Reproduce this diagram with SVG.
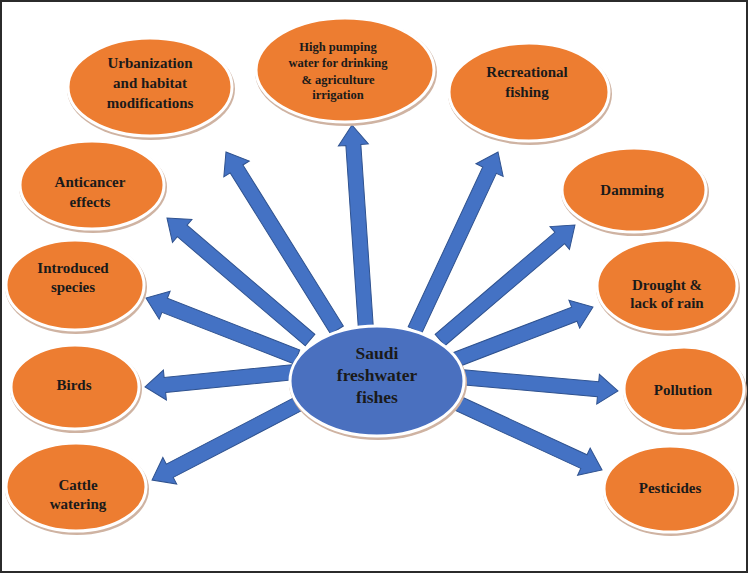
<svg xmlns="http://www.w3.org/2000/svg" width="748" height="573" viewBox="0 0 748 573">
<style>
.node ellipse.sh{fill:#cfb3a2;}
.node ellipse.bd{fill:#ED7D31;stroke:#ffffff;stroke-width:3;}
.center ellipse.bd{fill:#4A70BF;stroke:#ffffff;stroke-width:3;}
.arrow{fill:#4472C4;stroke:#2F528F;stroke-width:1;stroke-linejoin:miter;}
text{font-family:"Liberation Serif","Times New Roman",serif;font-weight:bold;fill:#1a1a1a;text-anchor:middle;font-size:15px;}
text.sm{font-size:12.5px;}
text.lg{font-size:17.5px;}
</style>
<rect x="1" y="1" width="746" height="571" fill="#ffffff" stroke="#2b2b2b" stroke-width="2"/>
<g id="connectors">
<path class="arrow" transform="translate(337,330) rotate(-121.95)" d="M0,-7.5 L189.8,-7.5 L189.8,-15 L209.8,0 L189.8,15 L189.8,7.5 L0,7.5 Z"/>
<path class="arrow" transform="translate(310,340) rotate(-139.53)" d="M0,-7.5 L168,-7.5 L168,-15 L188,0 L168,15 L168,7.5 L0,7.5 Z"/>
<path class="arrow" transform="translate(297,357) rotate(-158.66)" d="M0,-7.5 L142.1,-7.5 L142.1,-15 L162.1,0 L142.1,15 L142.1,7.5 L0,7.5 Z"/>
<path class="arrow" transform="translate(295,372) rotate(174.29)" d="M0,-7.5 L130.75,-7.5 L130.75,-15 L150.75,0 L130.75,15 L130.75,7.5 L0,7.5 Z"/>
<path class="arrow" transform="translate(300,403) rotate(152.51)" d="M0,-7.5 L146.8,-7.5 L146.8,-15 L166.8,0 L146.8,15 L146.8,7.5 L0,7.5 Z"/>
<path class="arrow" transform="translate(366,330) rotate(-93.91)" d="M0,-7.5 L185.5,-7.5 L185.5,-15 L205.5,0 L185.5,15 L185.5,7.5 L0,7.5 Z"/>
<path class="arrow" transform="translate(415,330) rotate(-65)" d="M0,-7.5 L176.4,-7.5 L176.4,-15 L196.4,0 L176.4,15 L176.4,7.5 L0,7.5 Z"/>
<path class="arrow" transform="translate(440,340) rotate(-40.43)" d="M0,-7.5 L157.3,-7.5 L157.3,-15 L177.3,0 L157.3,15 L157.3,7.5 L0,7.5 Z"/>
<path class="arrow" transform="translate(455,360) rotate(-21.01)" d="M0,-7.5 L127.8,-7.5 L127.8,-15 L147.8,0 L127.8,15 L127.8,7.5 L0,7.5 Z"/>
<path class="arrow" transform="translate(460,377) rotate(5.06)" d="M0,-7.5 L138.6,-7.5 L138.6,-15 L158.6,0 L138.6,15 L138.6,7.5 L0,7.5 Z"/>
<path class="arrow" transform="translate(455,402) rotate(24.82)" d="M0,-7.5 L142,-7.5 L142,-15 L162,0 L142,15 L142,7.5 L0,7.5 Z"/>
</g>
<g id="center" class="node center">
<ellipse class="sh" cx="378" cy="383" rx="89" ry="57"/>
<ellipse class="bd" cx="377" cy="381" rx="87" ry="55"/>
<text class="lg" x="377" y="359">Saudi</text>
<text class="lg" x="377" y="381">freshwater</text>
<text class="lg" x="377" y="403">fishes</text>
</g>
<g id="urbanization" class="node">
<ellipse class="sh" cx="151" cy="89" rx="84" ry="51"/>
<ellipse class="bd" cx="150" cy="87" rx="82" ry="49"/>
<text x="150" y="68">Urbanization</text>
<text x="150" y="88">and habitat</text>
<text x="150" y="108">modifications</text>
</g>
<g id="pumping" class="node">
<ellipse class="sh" cx="346" cy="72" rx="91" ry="54"/>
<ellipse class="bd" cx="345" cy="70" rx="89" ry="52"/>
<text class="sm" x="338" y="51">High pumping</text>
<text class="sm" x="338" y="67">water for drinking</text>
<text class="sm" x="338" y="84">&amp; agriculture</text>
<text class="sm" x="338" y="99">irrigation</text>
</g>
<g id="recreational" class="node">
<ellipse class="sh" cx="530" cy="94" rx="82" ry="51"/>
<ellipse class="bd" cx="529" cy="92" rx="80" ry="49"/>
<text x="527" y="77">Recreational</text>
<text x="527" y="97">fishing</text>
</g>
<g id="anticancer" class="node">
<ellipse class="sh" cx="93" cy="187" rx="74" ry="46"/>
<ellipse class="bd" cx="92" cy="185" rx="72" ry="44"/>
<text x="90" y="187">Anticancer</text>
<text x="90" y="207">effects</text>
</g>
<g id="introduced" class="node">
<ellipse class="sh" cx="76" cy="287" rx="71" ry="47"/>
<ellipse class="bd" cx="75" cy="285" rx="69" ry="45"/>
<text x="73" y="273">Introduced</text>
<text x="73" y="292">species</text>
</g>
<g id="birds" class="node">
<ellipse class="sh" cx="76" cy="389" rx="66" ry="44"/>
<ellipse class="bd" cx="75" cy="387" rx="64" ry="42"/>
<text x="74" y="390">Birds</text>
</g>
<g id="cattle" class="node">
<ellipse class="sh" cx="77" cy="489" rx="72" ry="46"/>
<ellipse class="bd" cx="76" cy="487" rx="70" ry="44"/>
<text x="78" y="490">Cattle</text>
<text x="78" y="509">watering</text>
</g>
<g id="damming" class="node">
<ellipse class="sh" cx="635" cy="192" rx="74" ry="44"/>
<ellipse class="bd" cx="634" cy="190" rx="72" ry="42"/>
<text x="632" y="195">Damming</text>
</g>
<g id="drought" class="node">
<ellipse class="sh" cx="668" cy="288" rx="72" ry="48"/>
<ellipse class="bd" cx="667" cy="286" rx="70" ry="46"/>
<text x="667" y="290">Drought &amp;</text>
<text x="667" y="308">lack of rain</text>
</g>
<g id="pollution" class="node">
<ellipse class="sh" cx="685" cy="391" rx="62" ry="44"/>
<ellipse class="bd" cx="684" cy="389" rx="60" ry="42"/>
<text x="683" y="395">Pollution</text>
</g>
<g id="pesticides" class="node">
<ellipse class="sh" cx="671" cy="491" rx="68" ry="45"/>
<ellipse class="bd" cx="670" cy="489" rx="66" ry="43"/>
<text x="670" y="493">Pesticides</text>
</g>
</svg>
